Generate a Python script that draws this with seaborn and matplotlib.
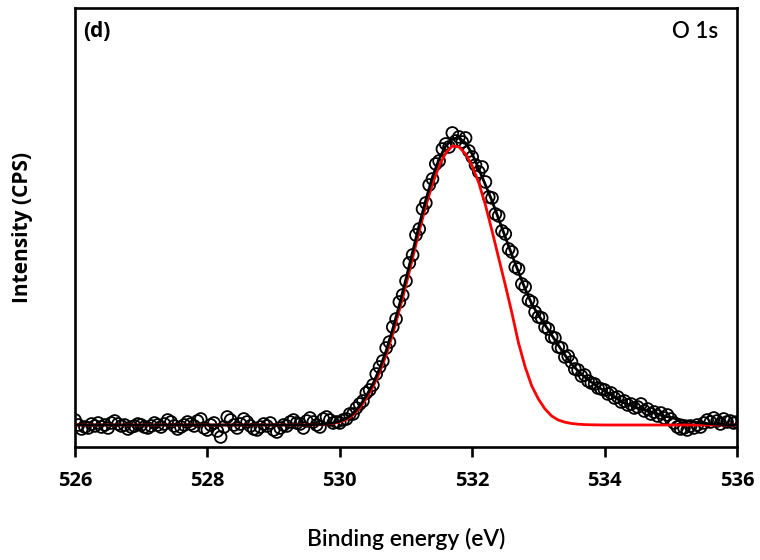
import numpy as np
import pandas as pd
import matplotlib
matplotlib.use("Agg")
import matplotlib.pyplot as plt
import seaborn as sns

energy_data = np.round(np.arange(526.0, 536.0001, 0.05), 2)
counts_data = [
    27, 22, 18, 20, 19, 23, 21, 24, 20, 22,
    19, 24, 26, 23, 21, 22, 18, 20, 21, 23,
    22, 20, 19, 21, 24, 22, 20, 23, 27, 25,
    21, 18, 20, 22, 25, 23, 21, 26, 28, 19,
    17, 22, 24, 16, 10, 20, 30, 27, 22, 19,
    23, 28, 25, 21, 18, 17, 20, 23, 21, 24,
    17, 15, 19, 22, 21, 25, 27, 24, 23, 19,
    26, 29, 25, 22, 20, 28, 30, 27, 24, 25,
    24, 27, 28, 33, 33, 39, 43, 46, 54, 57,
    62, 73, 80, 86, 99, 105, 120, 128, 145, 152,
    166, 184, 192, 212, 218, 238, 244, 262, 268, 283,
    286, 298, 303, 300, 314, 306, 310, 305, 309, 296,
    290, 282, 275, 280, 265, 250, 249, 233, 231, 216,
    213, 198, 195, 180, 178, 163, 160, 147, 145, 135,
    130, 129, 120, 118, 110, 109, 100, 99, 90, 91,
    85, 78, 77, 71, 72, 66, 64, 63, 59, 58,
    57, 53, 54, 49, 50, 45, 46, 42, 43, 39,
    40, 43, 36, 38, 33, 35, 31, 34, 29, 32,
    28, 24, 20, 18, 19, 17, 21, 19, 22, 20,
    24, 27, 25, 29, 26, 23, 28, 25, 26, 24, 25,
]

# Curvas de ajuste cada 0.1 eV
energy_fit = np.round(np.arange(526.0, 536.0001, 0.1), 1)
fit_total = [22] * 36 + [
    22.2, 22.6, 23.2, 24.2, 25.8, 28.5, 33.5, 41, 51, 63,
    78, 96, 118, 142, 168, 195, 222, 247, 270, 288,
    301, 308, 309, 304, 293, 278, 262, 246, 228, 210,
    192, 175, 158, 143, 132, 122, 112, 102, 92, 83,
    76, 70, 65, 60, 56, 52, 48, 44, 41.5, 39,
    37, 35, 33, 31, 29.5, 28, 26.5, 25.5, 24.5, 23.8,
    23.2, 22.8, 22.5, 22.2, 22,
]
fit_component = [22] * 36 + [
    22.1, 22.4, 22.9, 23.7, 25, 27.5, 32, 39, 48.5, 60,
    74.5, 92, 113, 137, 162, 189, 216, 241, 263, 281,
    294, 301, 300, 293, 281, 264, 242, 216, 189, 162,
    134, 104, 80, 61, 48, 38, 31, 27, 24.8, 23.5,
    22.8, 22.4, 22.2, 22.1,
] + [22] * 21

df_data = pd.DataFrame({"energy": energy_data, "counts": counts_data})
df_fit = pd.DataFrame({"energy": energy_fit, "total": fit_total, "comp": fit_component})

sns.set_style("white")
plt.rcParams["font.family"] = ["Open Sans", "DejaVu Sans"]
plt.rcParams["text.color"] = "black"
plt.rcParams["axes.labelcolor"] = "black"
plt.rcParams["xtick.color"] = "black"
semi = ["Lato", "DejaVu Sans"]  # para los textos semi-negrita

fig = plt.figure(figsize=(7.6, 5.6), dpi=100)
ax = fig.add_axes([0.0987, 0.2018, 0.871, 0.784])

# Puntos experimentales (circulos abiertos)
sns.scatterplot(data=df_data, x="energy", y="counts", ax=ax, marker="o",
                s=72, facecolors="none", edgecolor="black", linewidth=1.3, zorder=2)
# Componente y ajuste total
sns.lineplot(data=df_fit, x="energy", y="comp", ax=ax, color="red", lw=2, zorder=3)
sns.lineplot(data=df_fit, x="energy", y="total", ax=ax, color="black", lw=2, zorder=4)

ax.set_xlim(526, 536)
ax.set_ylim(0, 439)
ax.set_xticks([526, 528, 530, 532, 534, 536])
ax.set_yticks([])
for sp in ax.spines.values():
    sp.set_linewidth(1.9)
    sp.set_color("black")
ax.tick_params(axis="x", direction="out", length=7, width=1.9, pad=10,
               labelsize=14.5, bottom=True, colors="black")
for lab in ax.get_xticklabels():
    lab.set_fontweight("bold")

ax.set_xlabel("Binding energy (eV)", fontsize=16.5, fontweight="semibold",
              family=semi, labelpad=27)
ax.set_ylabel("Intensity (CPS)", fontsize=15, fontweight="bold", labelpad=30)

ax.text(0.012, 0.97, "(d)", transform=ax.transAxes, fontsize=15,
        fontweight="bold", va="top", ha="left")
ax.text(0.972, 0.97, "O 1s", transform=ax.transAxes, fontsize=16,
        fontweight="semibold", family=semi, va="top", ha="right")

fig.savefig("out.png", dpi=100)
